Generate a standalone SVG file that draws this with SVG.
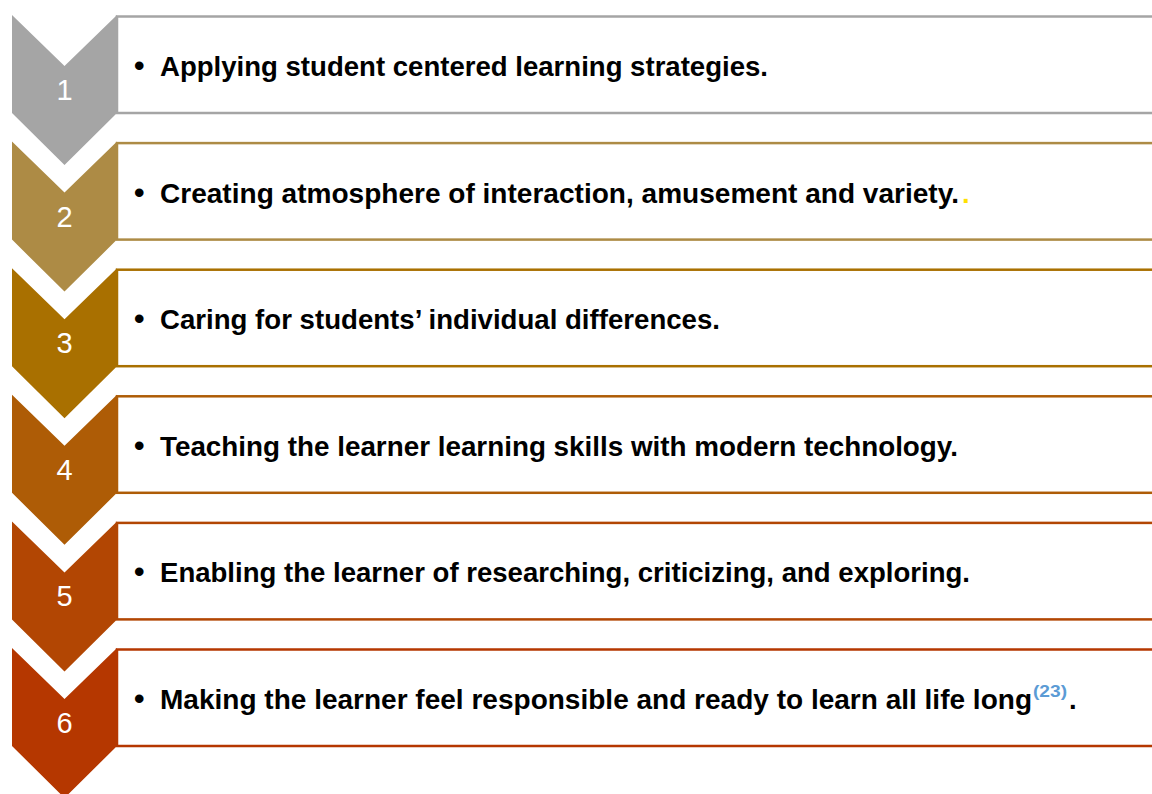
<svg xmlns="http://www.w3.org/2000/svg" width="1152" height="794" viewBox="0 0 1152 794">
<style>
.box{fill:#fff;stroke-width:2.5}
.num{font-family:"Liberation Sans",Arial,sans-serif;font-size:29px;fill:#fff;text-anchor:middle}
.txt{font-family:"Liberation Sans",Arial,sans-serif;font-size:27.5px;font-weight:bold;fill:#000}
.bul{font-family:"Liberation Sans",Arial,sans-serif;font-size:30px;font-weight:bold;fill:#000}
.sup{font-size:17px;fill:#5B9BD5}
</style>
<rect width="1152" height="794" fill="#fff"/>
<g id="step1">
<rect class="box" x="117" y="16.5" width="1040" height="96.5" stroke="#A5A5A5"/>
<path d="M12,15 L64.5,66 L117,15 L117,113 L64.5,165 L12,113 Z" fill="#A5A5A5"/>
<text class="num" x="64.5" y="100">1</text>
<text class="bul" x="134" y="76">•</text>
<text class="txt" x="160" y="76" textLength="608" lengthAdjust="spacingAndGlyphs">Applying student centered learning strategies.</text>
</g>
<g id="step2">
<rect class="box" x="117" y="143.1" width="1040" height="96.5" stroke="#AD8B45"/>
<path d="M12,141.6 L64.5,192.6 L117,141.6 L117,239.6 L64.5,291.6 L12,239.6 Z" fill="#AD8B45"/>
<text class="num" x="64.5" y="226.6">2</text>
<text class="bul" x="134" y="202.6">•</text>
<text class="txt" x="160" y="202.6" textLength="799" lengthAdjust="spacingAndGlyphs">Creating atmosphere of interaction, amusement and variety.</text>
<text class="txt" x="962" y="202.6" style="fill:#FFE000">.</text>
</g>
<g id="step3">
<rect class="box" x="117" y="269.7" width="1040" height="96.5" stroke="#A97000"/>
<path d="M12,268.2 L64.5,319.2 L117,268.2 L117,366.2 L64.5,418.2 L12,366.2 Z" fill="#A97000"/>
<text class="num" x="64.5" y="353.2">3</text>
<text class="bul" x="134" y="329.2">•</text>
<text class="txt" x="160" y="329.2" textLength="560" lengthAdjust="spacingAndGlyphs">Caring for students’ individual differences.</text>
</g>
<g id="step4">
<rect class="box" x="117" y="396.3" width="1040" height="96.5" stroke="#AE5C06"/>
<path d="M12,394.8 L64.5,445.8 L117,394.8 L117,492.8 L64.5,544.8 L12,492.8 Z" fill="#AE5C06"/>
<text class="num" x="64.5" y="479.8">4</text>
<text class="bul" x="134" y="455.8">•</text>
<text class="txt" x="160" y="455.8" textLength="798" lengthAdjust="spacingAndGlyphs">Teaching the learner learning skills with modern technology.</text>
</g>
<g id="step5">
<rect class="box" x="117" y="522.9" width="1040" height="96.5" stroke="#B24603"/>
<path d="M12,521.4 L64.5,572.4 L117,521.4 L117,619.4 L64.5,671.4 L12,619.4 Z" fill="#B24603"/>
<text class="num" x="64.5" y="606.4">5</text>
<text class="bul" x="134" y="582.4">•</text>
<text class="txt" x="160" y="582.4" textLength="810" lengthAdjust="spacingAndGlyphs">Enabling the learner of researching, criticizing, and exploring.</text>
</g>
<g id="step6">
<rect class="box" x="117" y="649.5" width="1040" height="96.5" stroke="#B53700"/>
<path d="M12,648 L64.5,699 L117,648 L117,746 L64.5,798 L12,746 Z" fill="#B53700"/>
<text class="num" x="64.5" y="733">6</text>
<text class="bul" x="134" y="709">•</text>
<text class="txt" x="160" y="709" textLength="872" lengthAdjust="spacingAndGlyphs">Making the learner feel responsible and ready to learn all life long</text>
<text class="txt sup" x="1033" y="697" textLength="34" lengthAdjust="spacingAndGlyphs">(23)</text>
<text class="txt" x="1069" y="709">.</text>
</g>
</svg>
